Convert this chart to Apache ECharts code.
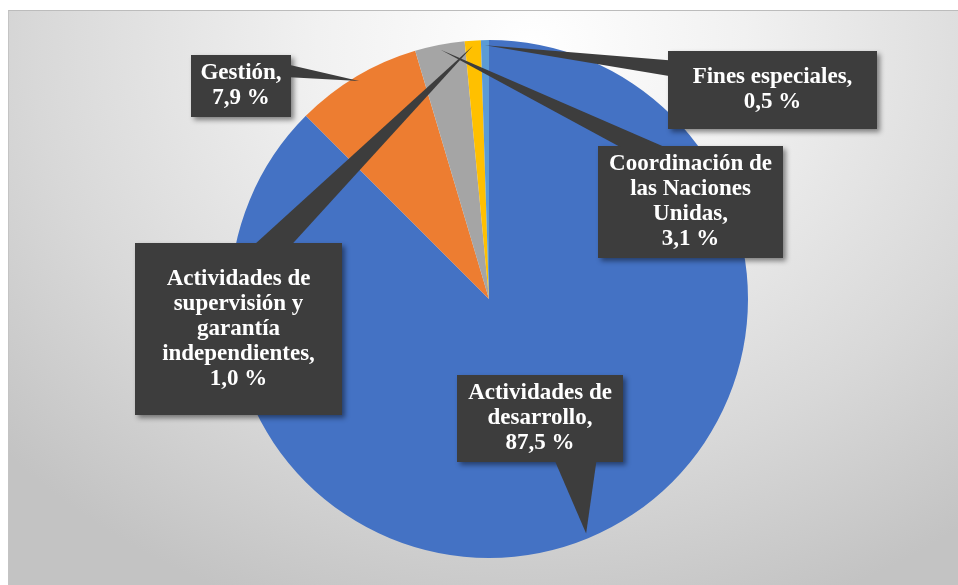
<!DOCTYPE html>
<html>
<head>
<meta charset="utf-8">
<title>Distribución de gastos</title>
<script src="https://cdn.jsdelivr.net/npm/echarts@6.0.0/dist/echarts.min.js"></script>
<style>
  html, body { margin: 0; padding: 0; background: #fff; }
  /* marco del área del gráfico con degradado radial */
  #frame {
    position: absolute; left: 8px; top: 10px; width: 950px; height: 575px;
    border-top: 1px solid #bcbcbc; border-left: 1px solid #c4c4c4;
    background: radial-gradient(ellipse 75% 105% at 55% 6%, #ffffff 0%, #f1f1f1 30%, #d8d8d8 70%, #c3c3c3 100%);
  }
  #chart { position: absolute; left: 0; top: 0; width: 958px; height: 585px; }
</style>
</head>
<body>
<div id="frame"></div>
<div id="chart"></div>
<script>
// datos del gráfico
const categories = [
  'Actividades de\ndesarrollo',
  'Gestión',
  'Coordinación de\nlas Naciones\nUnidas',
  'Actividades de\nsupervisión y\ngarantía\nindependientes',
  'Fines especiales'
]
const values = [87.5, 7.9, 3.1, 1.0, 0.5]
const colors = ['#4472C4', '#ED7D31', '#A5A5A5', '#FFC000', '#5B9BD5']

// geometría del pastel y de los recuadros de las etiquetas
const center = [489, 299]
const radius = 259
const lineHeight = 25
const boxColor = '#3d3d3d'
const labelBoxes = [
  { x: 457, y: 375, w: 166, h: 87, side: 'bottom', t: [0.59, 0.84] },
  { x: 191, y: 55, w: 100, h: 62, side: 'right', t: [0.16, 0.36] },
  { x: 598, y: 146, w: 185, h: 112, side: 'top', t: [0.12, 0.36] },
  { x: 135, y: 243, w: 207, h: 172, side: 'top', t: [0.58, 0.76] },
  { x: 668, y: 51, w: 209, h: 78, side: 'left', t: [0.12, 0.32] }
]

function fmt(v) {
  return v.toFixed(1).replace('.', ',') + ' %'
}

// punto sobre el borde del recuadro
function edgePoint(b, t) {
  if (b.side === 'top') return [b.x + b.w * t, b.y + 1]
  if (b.side === 'bottom') return [b.x + b.w * t, b.y + b.h - 1]
  if (b.side === 'left') return [b.x + 1, b.y + b.h * t]
  return [b.x + b.w - 1, b.y + b.h * t]
}

const total = values.reduce((a, b) => a + b, 0)
const wedges = []
let acc = 0
values.forEach((v, i) => {
  // ángulo medio del sector, medido desde las 12 en sentido horario
  const mid = (acc + v / 2) / total * Math.PI * 2
  acc += v
  const tip = [center[0] + radius * 0.98 * Math.sin(mid), center[1] - radius * 0.98 * Math.cos(mid)]
  const b = labelBoxes[i]
  wedges.push({
    type: 'polygon',
    z: 3,
    silent: true,
    shape: { points: [tip, edgePoint(b, b.t[0]), edgePoint(b, b.t[1])] },
    style: { fill: boxColor }
  })
})

const pieData = values.map((v, i) => {
  const b = labelBoxes[i]
  const lines = categories[i].split('\n').length + 1
  const pv = (b.h - lines * lineHeight) / 2
  return {
    name: categories[i],
    value: v,
    itemStyle: { color: colors[i] },
    label: { width: b.w - 12, padding: [pv, 6, pv, 6] }
  }
})

const chart = echarts.init(document.getElementById('chart'))
chart.setOption({
  animation: false,
  backgroundColor: 'transparent',
  graphic: wedges,
  series: [
    {
      type: 'pie',
      center: center,
      radius: radius,
      startAngle: 90,
      clockwise: true,
      avoidLabelOverlap: false,
      emphasis: { disabled: true },
      itemStyle: { borderWidth: 0 },
      data: pieData,
      label: {
        show: true,
        position: 'outside',
        formatter: (p) => p.name + ',\n' + fmt(p.value),
        color: '#ffffff',
        fontFamily: '"Liberation Serif", "Times New Roman", serif',
        fontWeight: 'bold',
        fontSize: 23,
        lineHeight: lineHeight,
        align: 'center',
        backgroundColor: boxColor,
        shadowColor: 'rgba(0,0,0,0.45)',
        shadowBlur: 5,
        shadowOffsetX: 3,
        shadowOffsetY: 3
      },
      labelLine: { show: false },
      labelLayout: (params) => {
        const b = labelBoxes[params.dataIndex]
        return {
          x: b.x + b.w / 2,
          y: b.y + b.h / 2,
          align: 'center',
          verticalAlign: 'middle'
        }
      }
    }
  ]
})
</script>
</body>
</html>
